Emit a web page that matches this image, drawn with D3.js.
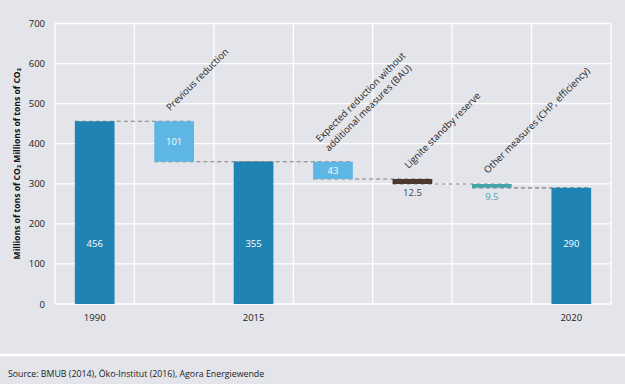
<!DOCTYPE html>
<html><head><meta charset="utf-8">
<script src="https://cdn.jsdelivr.net/npm/d3@7"></script>
<style>
body{margin:0;background:#e4e5ea;}
svg{display:block;font-family:"Open Sans",sans-serif;}
</style></head>
<body><svg id="c" width="625" height="384"></svg>
<script>
const categories = ["1990","Previous reduction","2015","Expected reduction without|additional measures (BAU)","Lignite standby reserve","Other measures (CHP, efficiency)","2020"];
const values = [456, -101, 355, -43, -12.5, -9.5, 290];
const kinds = ["total","delta","total","delta","delta","delta","total"];
const valueLabels = ["456","101","355","43","12.5","9.5","290"];
const xTickLabels = ["1990","","2015","","","","2020"];
const yTicks = [0,100,200,300,400,500,600,700];
const barColors = ["#1f83b4","#5db6e3","#1f83b4","#5db6e3","#4b3630","#47a6aa","#1f83b4"];

const svg = d3.select("#c");
const W=625,H=384;
svg.append("rect").attr("width",W).attr("height",H).attr("fill","#e4e5ea");
svg.append("line").attr("x1",0).attr("x2",W).attr("y1",355).attr("y2",355).attr("stroke","#fff").attr("stroke-width",2.5);

const m={l:55,r:611,t:23.5,b:304};
const x=d3.scaleBand().domain(categories).range([m.l,m.r]).paddingInner(0.5).paddingOuter(0.25);
const y=d3.scaleLinear().domain([0,700]).range([m.b,m.t]);
const xb=d3.scaleBand().domain(categories).range([m.l,m.r]);

// grid
const g=svg.append("g");
g.selectAll(".hg").data(yTicks).join("line").attr("x1",m.l).attr("x2",m.r)
 .attr("y1",d=>y(d)).attr("y2",d=>y(d)).attr("stroke","#fff").attr("stroke-width",1.3);
const vx=categories.map(c=>xb(c)).concat([m.r]);
g.selectAll(".vg").data(vx).join("line").attr("x1",d=>d).attr("x2",d=>d)
 .attr("y1",m.t).attr("y2",m.b).attr("stroke","#fff").attr("stroke-width",1.3);

// y axis
const ya=svg.append("g").attr("transform",`translate(${m.l-8},0)`)
 .call(d3.axisLeft(y).tickValues(yTicks).tickSize(0).tickPadding(2));
ya.select(".domain").remove();
ya.selectAll("text").attr("font-size",9.5).attr("fill","#222").attr("font-family","Open Sans");

// x axis
const xa=svg.append("g").attr("transform",`translate(0,${m.b+6})`)
 .call(d3.axisBottom(x).tickFormat((d,i)=>xTickLabels[i]).tickSize(0).tickPadding(4));
xa.select(".domain").remove();
xa.selectAll("text").attr("font-size",9.5).attr("fill","#222").attr("font-family","Open Sans");

// compute segments
let run=0;
const segs=categories.map((c,i)=>{
  let lo,hi,end;
  if(kinds[i]==="total"){lo=0;hi=values[i];end=values[i];}
  else{hi=run;end=run+values[i];lo=end;}
  run=end;
  return {c,i,lo,hi,end};
});

// connectors
for(let i=0;i<segs.length-1;i++){
  svg.append("line").attr("x1",x(segs[i].c)).attr("x2",x(segs[i+1].c)+x.bandwidth())
   .attr("y1",y(segs[i].end)).attr("y2",y(segs[i].end))
   .attr("stroke","#808080").attr("stroke-width",1.2).attr("stroke-dasharray","4,3");
}

// bars
svg.selectAll(".bar").data(segs).join("rect")
 .attr("x",d=>x(d.c)).attr("width",x.bandwidth())
 .attr("y",d=>y(d.hi)).attr("height",d=>y(d.lo)-y(d.hi))
 .attr("fill",(d,i)=>barColors[i]);

// value labels
segs.forEach((d,i)=>{
  const cx=x(d.c)+x.bandwidth()/2;
  let ty,fill="#fff";
  if(kinds[i]==="total") ty=y(150)+3.5;
  else if(y(d.lo)-y(d.hi)>15) ty=(y(d.lo)+y(d.hi))/2+3.5;
  else {ty=y(d.lo)+12; fill=i===5?"#47a6aa":"#444";}
  svg.append("text").attr("x",cx).attr("y",ty).attr("text-anchor","middle")
   .attr("font-size",9.5).attr("fill",fill).text(valueLabels[i]);
});

// rotated category labels
segs.forEach((d,i)=>{
  if(kinds[i]!=="delta") return;
  const cx=x(d.c)+x.bandwidth()/2;
  const lines=d.c.split("|");
  const ax=cx-4, ay=y(d.hi)-10;
  const t=svg.append("text").attr("transform",`translate(${ax},${ay}) rotate(-45)`)
   .attr("font-size",9.5).attr("fill","#222");
  lines.forEach((ln,k)=>{
    t.append("tspan").attr("x",0).attr("y",(k-(lines.length-1))*13).text(ln);
  });
});

// y title
svg.append("text").attr("transform",`translate(20,${(m.t+m.b)/2}) rotate(-90)`)
 .attr("text-anchor","middle").attr("font-size",8.6).attr("font-weight","bold").attr("fill","#111")
 .text("Millions of tons of CO\u2082 Millions of tons of CO\u2082");

svg.append("text").attr("x",8).attr("y",377).attr("font-size",8.8).attr("fill","#222")
 .text("Source: BMUB (2014), Öko-Institut (2016), Agora Energiewende");
</script></body></html>
